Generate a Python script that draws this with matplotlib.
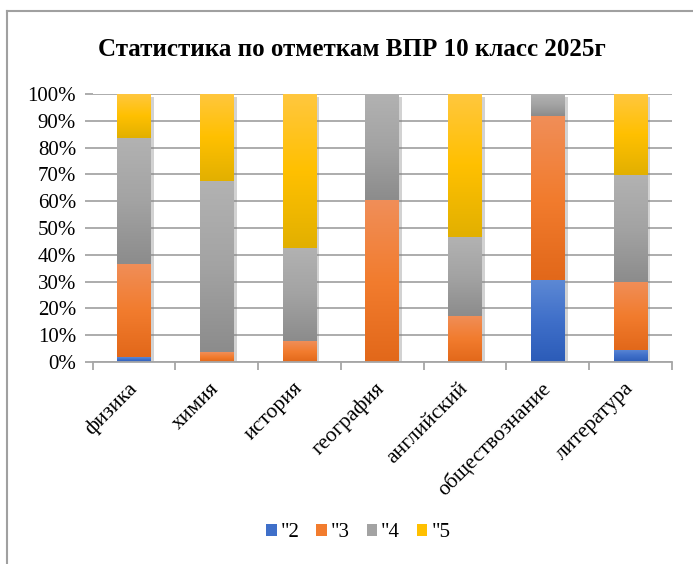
import numpy as np
import matplotlib
matplotlib.use("Agg")
import matplotlib.pyplot as plt
from matplotlib.lines import Line2D
from matplotlib.patches import Patch
from matplotlib.ticker import FuncFormatter, MultipleLocator, FixedLocator
from matplotlib.colors import to_rgb
import matplotlib.patheffects as pe

plt.rcParams['font.family'] = ['Liberation Serif', 'DejaVu Serif']

title = "Статистика по отметкам ВПР 10 класс 2025г"
categories = ["физика", "химия", "история", "география", "английский",
              "обществознание", "литература"]
series_labels = ['"2', '"3', '"4', '"5']
grade2 = [1.7, 0.0, 0.0, 0.0, 0.0, 30.6, 4.6]
grade3 = [34.9, 3.7, 7.8, 60.4, 17.2, 61.3, 25.4]
grade4 = [47.0, 63.8, 34.8, 39.6, 29.4, 8.1, 39.8]
grade5 = [16.4, 32.5, 57.4, 0.0, 53.4, 0.0, 30.2]

base_colors = ["#3F6FC9", "#F27C2E", "#A3A3A3", "#FFC000"]
top_colors = ["#5C88D4", "#F08E58", "#B2B2B2", "#FFC73E"]
bot_colors = ["#2C5CB8", "#E2681A", "#8C8C8C", "#E2B000"]

fig = plt.figure(figsize=(6.93, 5.64), dpi=100)
ax = fig.add_axes([0.1338, 0.3582, 0.9697 - 0.1338, 0.8333 - 0.3582])

data = np.array([grade2, grade3, grade4, grade5]) / 100.0
x = np.arange(len(categories))
width = 0.41
bottom = np.zeros(len(categories))
rects = []
for i, vals in enumerate(data):
    bars = ax.bar(x, vals, width, bottom=bottom, color=base_colors[i],
                  zorder=3, linewidth=0,
                  path_effects=[pe.withSimplePatchShadow(offset=(2, -2),
                                                         shadow_rgbFace='#808080',
                                                         alpha=0.35)])
    for b in bars:
        rects.append((b, i))
    bottom += vals

# gradient fills
n = 64
t = np.linspace(0, 1, n)
for b, i in rects:
    h = b.get_height()
    if h <= 0:
        continue
    c_top = np.array(to_rgb(top_colors[i]))
    c_mid = np.array(to_rgb(base_colors[i]))
    c_bot = np.array(to_rgb(bot_colors[i]))
    grad = np.zeros((n, 1, 3))
    for k, tt in enumerate(t):
        if tt < 0.5:
            c = c_top + (c_mid - c_top) * (tt / 0.5)
        else:
            c = c_mid + (c_bot - c_mid) * ((tt - 0.5) / 0.5)
        grad[k, 0, :] = c
    x0 = b.get_x()
    y0 = b.get_y()
    ax.imshow(grad, extent=[x0, x0 + b.get_width(), y0, y0 + h],
              aspect='auto', origin='upper', zorder=4, interpolation='bilinear')

ax.set_xlim(-0.5, len(categories) - 0.5)
ax.set_ylim(0, 1)

ax.yaxis.set_major_locator(MultipleLocator(0.1))
ax.yaxis.set_major_formatter(FuncFormatter(lambda v, p: f"{v*100:.0f}%"))
ax.grid(axis='y', color='#A6A6A6', linewidth=1.3, zorder=0)
ax.tick_params(axis='y', length=6, width=1.3, color='#A6A6A6', pad=6,
               labelsize=15)

ax.xaxis.set_major_locator(FixedLocator(np.arange(-0.5, len(categories), 1.0)))
ax.xaxis.set_major_formatter(FuncFormatter(lambda v, p: ""))
ax.xaxis.set_minor_locator(FixedLocator(x))
ax.set_xticklabels(categories, minor=True)
ax.tick_params(axis='x', which='major', length=6, width=1.3, color='#A6A6A6')
ax.tick_params(axis='x', which='minor', length=0, pad=17, labelsize=15.5)
for lab in ax.get_xticklabels(minor=True):
    lab.set_rotation(45)
    lab.set_ha('right')
    lab.set_va('center')
    lab.set_rotation_mode('anchor')

for s in ['left', 'right', 'top']:
    ax.spines[s].set_visible(False)
ax.spines['bottom'].set_color('#A6A6A6')
ax.spines['bottom'].set_linewidth(1.3)
ax.spines['bottom'].set_zorder(5)

fig.text(0.508, 0.913, title, ha='center', va='center', fontsize=18,
         fontweight='bold')

handles = [Patch(facecolor=c, edgecolor='none') for c in base_colors]
fig.legend(handles, series_labels, loc='center', bbox_to_anchor=(0.517, 0.055),
           ncol=4, frameon=False, fontsize=15, handlelength=0.5,
           handleheight=0.5, handletextpad=0.2, columnspacing=0.8)

# chart border (left and top)
fig.add_artist(Line2D([7/693, 7/693], [0, 1 - 11/564], transform=fig.transFigure,
                      color='#A0A0A0', linewidth=1.5))
fig.add_artist(Line2D([7/693, 1], [1 - 11/564, 1 - 11/564], transform=fig.transFigure,
                      color='#A0A0A0', linewidth=1.5))

fig.savefig("out.png", dpi=100, facecolor='white')
